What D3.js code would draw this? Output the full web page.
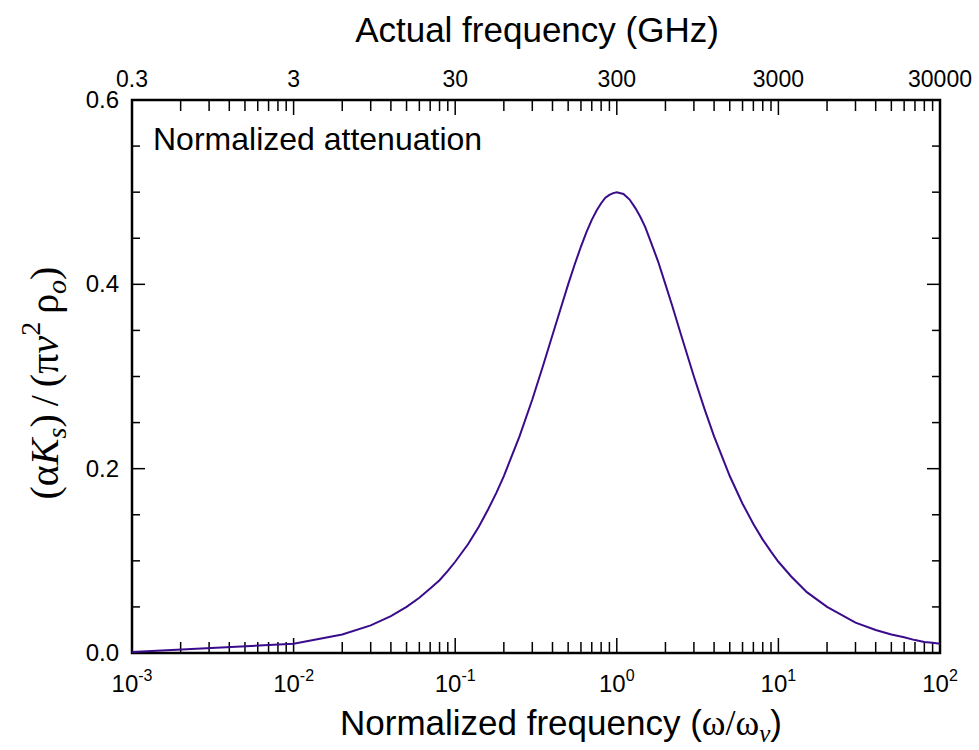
<!DOCTYPE html>
<html><head><meta charset="utf-8">
<script src="https://cdn.jsdelivr.net/npm/d3@7"></script>
<style>body{margin:0;background:#fff}svg{display:block}</style>
</head><body>
<svg id="c" width="979" height="750"></svg>
<script>
const freqNorm = [0.001,0.01,0.02,0.03,0.04,0.05,0.06,0.07,0.08,0.09,0.10,0.12,0.14,0.16,0.18,0.20,0.25,0.30,0.35,0.40,0.45,0.50,0.55,0.60,0.65,0.70,0.75,0.80,0.85,0.90,0.95,1.00,1.1,1.2,1.3,1.4,1.5,1.6,1.8,2.0,2.2,2.5,3.0,3.5,4,5,6,7,8,9,10,12,15,20,30,40,50,60,70,80,90,100];
const attenuation = [0.001,0.010,0.020,0.030,0.040,0.050,0.060,0.070,0.079,0.089,0.099,0.118,0.137,0.156,0.174,0.192,0.235,0.275,0.312,0.345,0.374,0.400,0.422,0.441,0.457,0.470,0.480,0.488,0.494,0.497,0.499,0.500,0.498,0.492,0.483,0.473,0.462,0.449,0.425,0.400,0.377,0.345,0.300,0.264,0.235,0.192,0.162,0.140,0.123,0.110,0.099,0.083,0.066,0.050,0.033,0.025,0.020,0.017,0.014,0.012,0.011,0.010];
const bottomExponents = [-3,-2,-1,0,1,2];
const topTickLabels = ["0.3","3","30","300","3000","30000"];
const yTicks = [0.0,0.2,0.4,0.6];

const svg = d3.select("#c");
const L=132,R=940,T=100,B=653;
const x = d3.scaleLog().domain([1e-3,1e2]).range([L,R]);
const y = d3.scaleLinear().domain([0,0.6]).range([B,T]);
const sans = "'Liberation Sans', Arial, sans-serif";
const serif = "'Liberation Serif', 'Times New Roman', serif";

const logTicks=[];
for(let e=-3;e<2;e++){for(let m=1;m<10;m++){logTicks.push({v:m*Math.pow(10,e),major:m===1});}}
logTicks.push({v:100,major:true});
const g = svg.append("g").attr("stroke","#000").attr("stroke-width",1.5);
logTicks.forEach(t=>{
  const px=x(t.v), len=t.major?15:11;
  g.append("line").attr("x1",px).attr("x2",px).attr("y1",B).attr("y2",B-len);
  g.append("line").attr("x1",px).attr("x2",px).attr("y1",T).attr("y2",T+len);
});
for(let v=0;v<=0.6001;v+=0.05){
  const major=Math.abs(v/0.2-Math.round(v/0.2))<1e-6;
  const py=y(v), len=major?13:8;
  g.append("line").attr("x1",L).attr("x2",L+len).attr("y1",py).attr("y2",py);
  g.append("line").attr("x1",R).attr("x2",R-len).attr("y1",py).attr("y2",py);
}
svg.append("rect").attr("x",L).attr("y",T).attr("width",R-L).attr("height",B-T)
  .attr("fill","none").attr("stroke","#000").attr("stroke-width",2.5);

const line=d3.line().x((d,i)=>x(freqNorm[i])).y(d=>y(d));
svg.append("path").datum(attenuation).attr("d",line).attr("fill","none")
  .attr("stroke","#3a0c8c").attr("stroke-width",2);

yTicks.forEach(v=>{
  svg.append("text").attr("x",L-13).attr("y",y(v)+8).attr("text-anchor","end")
    .attr("font-family",sans).attr("font-size",24).text(v.toFixed(1));
});
bottomExponents.forEach(e=>{
  const t=svg.append("text").attr("x",x(Math.pow(10,e))).attr("y",692).attr("text-anchor","middle")
    .attr("font-family",sans).attr("font-size",24);
  t.append("tspan").text("10");
  t.append("tspan").attr("dy",-11).attr("font-size",16).text(e);
});
topTickLabels.forEach((s,i)=>{
  svg.append("text").attr("x",x(Math.pow(10,bottomExponents[i]))).attr("y",87).attr("text-anchor","middle")
    .attr("font-family",sans).attr("font-size",23).text(s);
});
svg.append("text").attr("x",537).attr("y",42).attr("text-anchor","middle")
  .attr("font-family",sans).attr("font-size",35).text("Actual frequency (GHz)");
svg.append("text").attr("x",153).attr("y",150).attr("font-family",sans).attr("font-size",32).text("Normalized attenuation");

const bx=svg.append("text").attr("x",561).attr("y",735).attr("text-anchor","middle")
  .attr("font-family",sans).attr("font-size",35);
bx.append("tspan").text("Normalized frequency (");
bx.append("tspan").attr("font-family",serif).attr("font-size",36).text("ω/ω");
bx.append("tspan").attr("font-family",serif).attr("font-style","italic").attr("font-size",25).attr("dy",7).text("ν");
bx.append("tspan").attr("dy",-7).text(")");

const yl=svg.append("text").attr("transform","translate(58,383) rotate(-90)").attr("text-anchor","middle")
  .attr("font-family",serif).attr("font-size",40);
yl.append("tspan").text("(α");
yl.append("tspan").attr("font-style","italic").text("K");
yl.append("tspan").attr("font-style","italic").attr("font-size",28).attr("dy",8).text("s");
yl.append("tspan").attr("dy",-8).text(")\u2009/\u2009(π");
yl.append("tspan").attr("font-style","italic").text("ν");
yl.append("tspan").attr("font-size",28).attr("dy",-18).text("2");
yl.append("tspan").attr("dy",18).text("\u2009ρ");
yl.append("tspan").attr("font-style","italic").attr("font-size",28).attr("dy",8).text("o");
yl.append("tspan").attr("dy",-8).text(")");
</script>
</body></html>
